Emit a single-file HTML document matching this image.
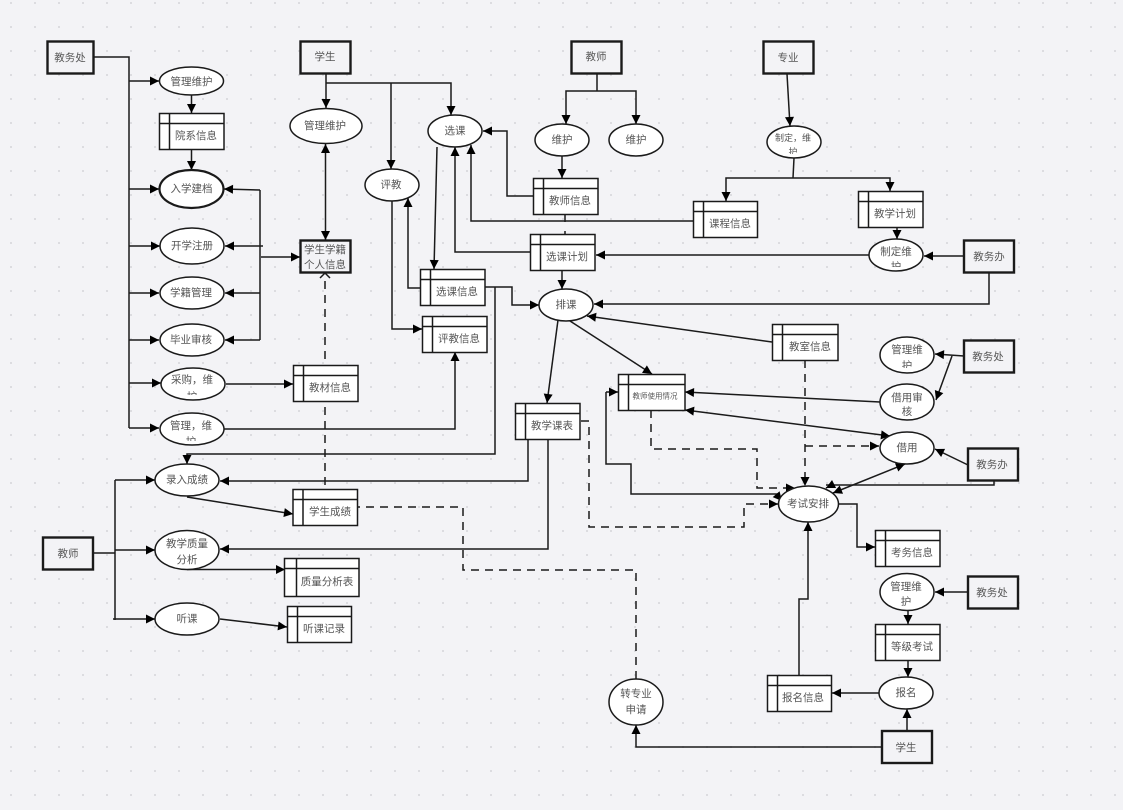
<!DOCTYPE html>
<html lang="zh"><head><meta charset="utf-8"><title>数据流图</title>
<style>
html,body{margin:0;padding:0;width:1123px;height:810px;overflow:hidden;background:#f3f3f6}
svg{display:block}
text{font-family:"Liberation Sans","Noto Sans CJK SC",sans-serif;font-size:10.5px;fill:#555;text-anchor:middle;dominant-baseline:central}
.l{fill:none;stroke:#1a1a1a;stroke-width:1.5}
.d{fill:none;stroke:#1a1a1a;stroke-width:1.5;stroke-dasharray:8 6}
.a{fill:none;stroke:#1a1a1a;stroke-width:1.5;marker-end:url(#m)}
.b{fill:none;stroke:#1a1a1a;stroke-width:1.5;marker-end:url(#m);marker-start:url(#s)}
.da{fill:none;stroke:#1a1a1a;stroke-width:1.5;stroke-dasharray:8 6;marker-end:url(#m)}
.e{fill:#fff;stroke:#1a1a1a;stroke-width:1.5}
.t{fill:#f3f3f6;stroke:#1a1a1a;stroke-width:2.4}
.s{fill:#fff;stroke:#1a1a1a;stroke-width:1.5}
</style></head><body>
<svg width="1123" height="810" viewBox="0 0 1123 810" xmlns="http://www.w3.org/2000/svg">
<defs>
<pattern id="g" x="10" y="2" width="24" height="24" patternUnits="userSpaceOnUse"><rect x="0" y="0" width="2" height="2" fill="#dcdce0"/></pattern>
<marker id="m" markerUnits="userSpaceOnUse" markerWidth="12" markerHeight="12" refX="10" refY="6" orient="auto"><path d="M1,1.500L10,6L1,10.500Z" fill="#000"/></marker>
<marker id="s" markerUnits="userSpaceOnUse" markerWidth="12" markerHeight="12" refX="2" refY="6" orient="auto"><path d="M11,1.500L2,6L11,10.500Z" fill="#000"/></marker>
<clipPath id="c1"><rect x="760" y="120" width="70" height="34"/></clipPath>
<clipPath id="c2"><rect x="860" y="235" width="70" height="32"/></clipPath>
<clipPath id="c3"><rect x="870" y="335" width="70" height="33"/></clipPath>
<clipPath id="c4"><rect x="870" y="382" width="70" height="34"/></clipPath>
<clipPath id="c5"><rect x="160" y="366" width="70" height="29"/></clipPath>
<clipPath id="c6"><rect x="160" y="412" width="70" height="29"/></clipPath>
<clipPath id="c7"><rect x="870" y="572" width="70" height="34"/></clipPath>
</defs>
<rect width="1123" height="810" fill="#f3f3f6"/>
<rect width="1123" height="810" fill="url(#g)"/>

<!-- connectors -->
<path class="l" d="M94,57H129V428"/>
<path class="a" d="M129,81H159"/><path class="a" d="M129,189H159"/><path class="a" d="M129,246H160"/>
<path class="a" d="M129,293H159"/><path class="a" d="M129,340H159"/><path class="a" d="M129,383H161"/><path class="a" d="M129,428H159"/>
<path class="a" d="M191.500,95V113"/><path class="a" d="M191.500,149V170"/>
<path class="a" d="M261,257H300"/><path class="l" d="M260,190V340"/>
<path class="a" d="M260,190L224,189"/><path class="a" d="M263,246H225"/><path class="a" d="M260,293H225"/><path class="a" d="M260,340H225"/>
<path class="a" d="M226,384H293"/><path class="a" d="M224,429H455V352"/>
<path class="a" d="M326,73V108"/><path class="a" d="M326,83H451V115"/><path class="a" d="M391,83V169"/>
<path class="b" d="M325.500,144V240"/>
<path class="d" d="M325,485V278"/><path class="l" d="M320,278L325,273L330,278"/>
<path class="a" d="M437,147L434,269"/>
<path class="a" d="M392,201V329H422"/>
<path class="a" d="M420,288H408V198"/>
<path class="a" d="M485,287H512V305H539"/>
<path class="a" d="M495,287V454H187V464"/>
<path class="l" d="M597,73V91"/><path class="a" d="M597,91H566V124"/><path class="a" d="M597,91H636V124"/>
<path class="a" d="M562,156V178"/>
<path class="a" d="M533,196H507V131H483"/>
<path class="a" d="M693,221H471V145"/>
<path class="a" d="M530,252H455V147"/>
<path class="l" d="M565,214V222M565,231V234"/>
<path class="a" d="M562,270V289"/>
<path class="a" d="M869,255H596"/><path class="a" d="M964,256H924"/>
<path class="a" d="M989,272V304H594"/>
<path class="a" d="M897,227V239"/>
<path class="a" d="M787,74L790,126"/>
<path class="l" d="M794,158L793,178"/><path class="a" d="M794,178H726V201"/><path class="a" d="M794,178H890V191"/>
<path class="a" d="M772,342L587,316"/>
<path class="a" d="M558,320L547,403"/>
<path class="a" d="M570,321L652,374"/>
<path class="da" d="M581,421H589V527H744V504H778"/>
<path class="da" d="M651,410V449H757V488H795"/>
<path class="l" d="M778,494H631V464H606V392"/><path class="a" d="M606,392H618"/><path class="a" d="M776,494L782,501"/>
<path class="a" d="M880,402L685,392"/>
<path class="b" d="M685,410L890,436"/>
<path class="da" d="M805,360V486"/><path class="da" d="M805,446H879"/>
<path class="a" d="M964,356L935,354"/><path class="a" d="M952,356L936,400"/>
<path class="a" d="M968,465L935,449"/>
<path class="l" d="M994,480V485H826"/><path class="a" d="M832,485L826,488"/>
<path class="b" d="M905,464L833,493"/>
<path class="a" d="M838,504H857V547H875"/>
<path class="a" d="M799,675V599H808V522"/>
<path class="a" d="M908,660V677"/><path class="a" d="M908,611V624"/><path class="a" d="M968,592H935"/>
<path class="a" d="M879,693H832"/><path class="a" d="M907,731V709"/>
<path class="a" d="M882,747H636V725"/>
<path class="d" d="M636,679V570H463V507H358"/>
<path class="a" d="M528,439V481H220"/>
<path class="a" d="M548,439V549H220"/>
<path class="a" d="M187,497L293,514"/>
<path class="l" d="M93,553H115M115,480V620"/>
<path class="a" d="M115,480H155"/><path class="a" d="M115,550H155"/><path class="a" d="M113,619H155"/>
<path class="a" d="M187,569.500H285"/><path class="a" d="M220,619L287,627"/>

<!-- actors -->
<rect class="t" x="47.500" y="41.500" width="46" height="32"/><text x="70" y="58">教务处</text>
<rect class="t" x="300.500" y="41.500" width="50" height="32"/><text x="325" y="57">学生</text>
<rect class="t" x="571.500" y="41.500" width="50" height="32"/><text x="596" y="57">教师</text>
<rect class="t" x="763.500" y="41.500" width="50" height="32"/><text x="788" y="58">专业</text>
<rect class="t" x="964" y="240.500" width="50" height="32"/><text x="989" y="257">教务办</text>
<rect class="t" x="964" y="340.500" width="50" height="32"/><text x="988" y="357">教务处</text>
<rect class="t" x="968" y="448.500" width="50" height="32"/><text x="992" y="465">教务办</text>
<rect class="t" x="968" y="576.500" width="50" height="32"/><text x="992" y="593">教务处</text>
<rect class="t" x="43" y="537.500" width="50" height="32"/><text x="68" y="554">教师</text>
<rect class="t" x="882" y="731" width="50" height="32"/><text x="906" y="748">学生</text>
<rect class="t" x="300.500" y="240.500" width="50" height="32"/><text x="325" y="250">学生学籍</text><text x="325" y="265">个人信息</text>

<!-- ellipses -->
<ellipse class="e" cx="191.500" cy="81" rx="32" ry="14"/><text x="191.500" y="82">管理维护</text>
<ellipse class="e" cx="326" cy="126" rx="36" ry="17.500"/><text x="325" y="126">管理维护</text>
<ellipse class="e" cx="455" cy="131" rx="27" ry="16"/><text x="455" y="131">选课</text>
<ellipse class="e" cx="562" cy="140" rx="27" ry="16"/><text x="562" y="140">维护</text>
<ellipse class="e" cx="636" cy="140" rx="27" ry="16"/><text x="636" y="140">维护</text>
<ellipse class="e" cx="794" cy="142" rx="27" ry="16"/><g clip-path="url(#c1)"><text x="793" y="138" style="font-size:9px">制定，维</text><text x="793" y="152" style="font-size:9px">护</text></g>
<ellipse class="e" cx="191.500" cy="189" rx="32" ry="19" style="stroke-width:2.200"/><text x="191.500" y="189">入学建档</text>
<ellipse class="e" cx="192" cy="246" rx="32" ry="18"/><text x="192" y="246">开学注册</text>
<ellipse class="e" cx="192" cy="293" rx="32" ry="16"/><text x="191" y="293">学籍管理</text>
<ellipse class="e" cx="192" cy="340" rx="32" ry="16"/><text x="191" y="340">毕业审核</text>
<ellipse class="e" cx="193" cy="384" rx="32" ry="16"/><g clip-path="url(#c5)"><text x="192" y="380">采购，维</text><text x="192" y="397">护</text></g>
<ellipse class="e" cx="192" cy="429" rx="32" ry="16"/><g clip-path="url(#c6)"><text x="191" y="426">管理，维</text><text x="191" y="442">护</text></g>
<ellipse class="e" cx="392" cy="185" rx="27" ry="16"/><text x="391" y="185">评教</text>
<ellipse class="e" cx="566" cy="305" rx="27" ry="16"/><text x="566" y="305">排课</text>
<ellipse class="e" cx="896" cy="255" rx="27" ry="16"/><g clip-path="url(#c2)"><text x="896" y="252">制定维</text><text x="896" y="267">护</text></g>
<ellipse class="e" cx="907" cy="355" rx="27" ry="18"/><g clip-path="url(#c3)"><text x="907" y="350">管理维</text><text x="907" y="366">护</text></g>
<ellipse class="e" cx="907" cy="402" rx="27" ry="18"/><g clip-path="url(#c4)"><text x="907" y="398">借用审</text><text x="907" y="412">核</text></g>
<ellipse class="e" cx="907" cy="448" rx="27" ry="16"/><text x="907" y="448">借用</text>
<ellipse class="e" cx="808.500" cy="504" rx="30" ry="18"/><text x="808" y="504">考试安排</text>
<ellipse class="e" cx="187" cy="480" rx="32" ry="16"/><text x="187" y="480">录入成绩</text>
<ellipse class="e" cx="187" cy="550" rx="32" ry="19.500"/><text x="187" y="544">教学质量</text><text x="187" y="560">分析</text>
<ellipse class="e" cx="187" cy="619" rx="32" ry="16"/><text x="187" y="619">听课</text>
<ellipse class="e" cx="907" cy="592" rx="27" ry="18.500"/><g clip-path="url(#c7)"><text x="906" y="587">管理维</text><text x="906" y="602">护</text></g>
<ellipse class="e" cx="906" cy="693" rx="27" ry="16"/><text x="906" y="693">报名</text>
<ellipse class="e" cx="636" cy="702" rx="27" ry="23"/><text x="636" y="694">转专业</text><text x="636" y="710">申请</text>

<!-- data stores -->
<g id="stores">
<rect class="s" x="159.500" y="113.500" width="64.500" height="36"/><path class="l" d="M159.500,123.500H224M169.500,113.500V149.500"/><text x="196" y="136">院系信息</text>
<rect class="s" x="533.500" y="178.500" width="64.500" height="36"/><path class="l" d="M533.500,188.500H598M543.500,178.500V214.500"/><text x="570" y="201">教师信息</text>
<rect class="s" x="693.500" y="201.500" width="64" height="36"/><path class="l" d="M693.500,211.500H757.500M703.500,201.500V237.500"/><text x="730" y="224">课程信息</text>
<rect class="s" x="858.500" y="191.500" width="64.500" height="36"/><path class="l" d="M858.500,201.500H923M868.500,191.500V227.500"/><text x="895" y="214">教学计划</text>
<rect class="s" x="530.500" y="234.500" width="64.500" height="36"/><path class="l" d="M530.500,244.500H595M540.500,234.500V270.500"/><text x="567" y="257">选课计划</text>
<rect class="s" x="420.500" y="269.500" width="64.500" height="36"/><path class="l" d="M420.500,279.500H485M430.500,269.500V305.500"/><text x="457" y="292">选课信息</text>
<rect class="s" x="422.500" y="316.500" width="64.500" height="36"/><path class="l" d="M422.500,326.500H487M432.500,316.500V352.500"/><text x="459" y="339">评教信息</text>
<rect class="s" x="293.500" y="365.500" width="64.500" height="36"/><path class="l" d="M293.500,375.500H358M303.500,365.500V401.500"/><text x="330" y="388">教材信息</text>
<rect class="s" x="772.500" y="324.500" width="65.500" height="36"/><path class="l" d="M772.500,334.500H838M782.500,324.500V360.500"/><text x="810" y="347">教室信息</text>
<rect class="s" x="618.500" y="374.500" width="66.500" height="36"/><path class="l" d="M618.500,384.500H685M628.500,374.500V410.500"/><text x="655" y="396" style="font-size:7.500px">教师使用情况</text>
<rect class="s" x="515.500" y="403.500" width="64.500" height="36"/><path class="l" d="M515.500,413.500H580M525.500,403.500V439.500"/><text x="552" y="426">教学课表</text>
<rect class="s" x="293" y="489.500" width="64.500" height="36"/><path class="l" d="M293,499.500H357.500M303,489.500V525.500"/><text x="330" y="512">学生成绩</text>
<rect class="s" x="284.500" y="558.500" width="74.500" height="38"/><path class="l" d="M284.500,568.500H359M296.500,558.500V596.500"/><text x="327" y="582">质量分析表</text>
<rect class="s" x="287.500" y="606.500" width="64" height="36"/><path class="l" d="M287.500,616.500H351.500M297.500,606.500V642.500"/><text x="324" y="629">听课记录</text>
<rect class="s" x="875.500" y="530.500" width="64.500" height="36"/><path class="l" d="M875.500,540.500H940M885.500,530.500V566.500"/><text x="912" y="553">考务信息</text>
<rect class="s" x="875.500" y="624.500" width="64.500" height="36"/><path class="l" d="M875.500,634.500H940M885.500,624.500V660.500"/><text x="912" y="647">等级考试</text>
<rect class="s" x="767.500" y="675.500" width="64" height="36"/><path class="l" d="M767.500,685.500H831.500M777.500,675.500V711.500"/><text x="803" y="698">报名信息</text>
</g>
</svg>
</body></html>
